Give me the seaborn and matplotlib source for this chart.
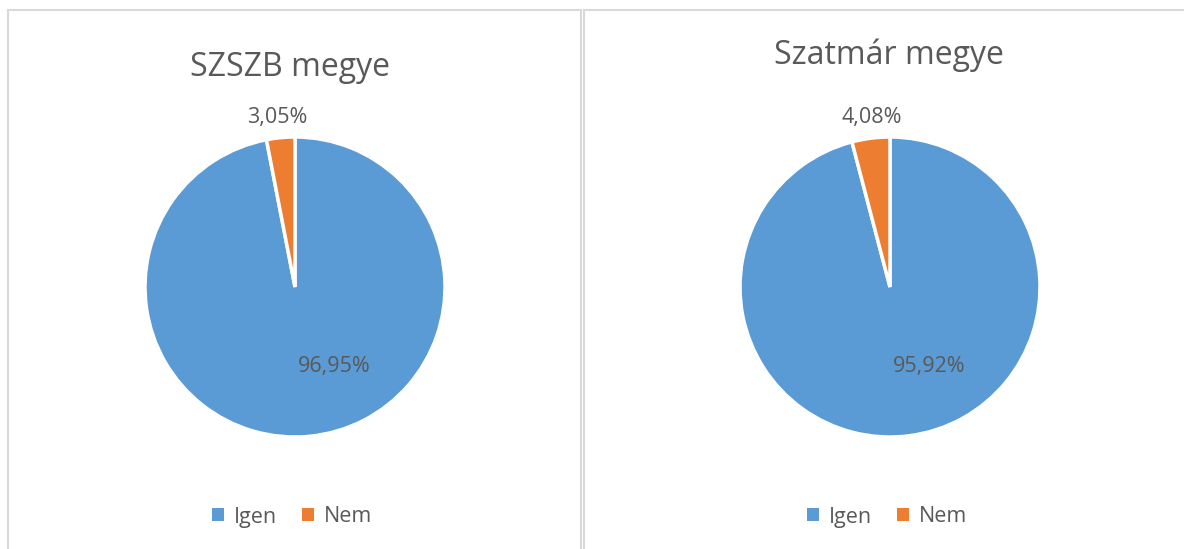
import matplotlib
matplotlib.use("Agg")
import matplotlib.pyplot as plt
import seaborn as sns
from matplotlib.patches import Rectangle, Patch

categories = ["Igen", "Nem"]
szszb_values = [96.95, 3.05]
szatmar_values = [95.92, 4.08]
titles = ["SZSZB megye", "Szatmár megye"]
colors = ["#5B9BD5", "#ED7D31"]

sns.set_theme(style="white")
plt.rcParams["font.family"] = ["Open Sans", "DejaVu Sans"]

W, H = 1184, 549
fig = plt.figure(figsize=(W / 100, H / 100), dpi=100)
fig.patch.set_facecolor("white")

grey = "#595959"

def fx(px):
    return px / W

def fy(py):
    return 1 - py / H

# panel borders
fig.patches.append(Rectangle((fx(8), fy(560)), fx(573), fy(10) - fy(560),
                             transform=fig.transFigure, fill=False,
                             edgecolor="#D9D9D9", lw=1.5))
fig.patches.append(Rectangle((fx(584), fy(560)), fx(620), fy(10) - fy(560),
                             transform=fig.transFigure, fill=False,
                             edgecolor="#D9D9D9", lw=1.5))

panels = [
    (szszb_values, 145, 290, 68, 292),
    (szatmar_values, 740, 889, 55, 887),
]

for i, (vals, left_px, title_x, title_y, leg_x) in enumerate(panels):
    ax = fig.add_axes([fx(left_px), fy(437), fx(300), fy(137) - fy(437)])
    wedges, texts = ax.pie(vals, colors=colors, startangle=90, counterclock=False,
                           radius=1, wedgeprops=dict(edgecolor="white", linewidth=2.5))
    ax.set_xlim(-1, 1)
    ax.set_ylim(-1, 1)
    ax.set_aspect("equal")
    ax.axis("off")
    # percent labels
    ax.text(0.26, -0.53, f"{vals[0]:.2f}%".replace(".", ","), ha="center", va="center",
            fontsize=15.5, color=grey)
    ax.text(-0.12, 1.13, f"{vals[1]:.2f}%".replace(".", ","), ha="center", va="center",
            fontsize=15.5, color=grey)
    fig.text(fx(title_x), fy(title_y), titles[i], ha="center", va="center",
             fontsize=23, color=grey)
    handles = [Patch(facecolor=c, edgecolor="none") for c in colors]
    fig.legend(handles, categories, loc="center", bbox_to_anchor=(fx(leg_x), fy(517)),
               ncol=2, frameon=False, fontsize=15.5, labelcolor=grey,
               handlelength=0.55, handleheight=0.55, handletextpad=0.45, columnspacing=1.2)

fig.savefig("out.png", dpi=100)
